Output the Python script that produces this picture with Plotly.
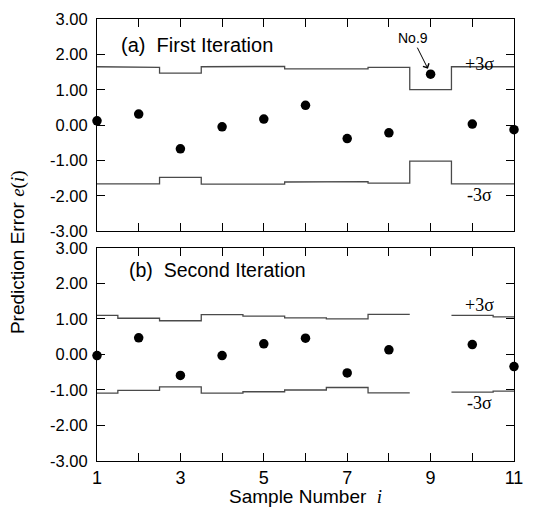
import plotly.graph_objects as go

# ---------------- data ----------------
samples = [1, 2, 3, 4, 5, 6, 7, 8, 9, 10, 11]

err_first = [0.12, 0.31, -0.67, -0.05, 0.17, 0.56, -0.38, -0.22, 1.44, 0.03, -0.13]
ucl_first = [1.65, 1.63, 1.47, 1.65, 1.66, 1.59, 1.59, 1.63, 1.00, 1.65, 1.65]
lcl_first = [-1.66, -1.66, -1.48, -1.67, -1.67, -1.61, -1.60, -1.64, -1.02, -1.66, -1.66]

err_second = [-0.03, 0.47, -0.59, -0.03, 0.30, 0.46, -0.52, 0.13, None, 0.28, -0.34]
ucl_second = [1.10, 1.02, 0.95, 1.12, 1.08, 1.03, 1.00, 1.13, None, 1.10, 1.06]
lcl_second = [-1.09, -1.01, -0.91, -1.09, -1.05, -1.00, -0.93, -1.08, None, -1.06, -1.03]

ytick_vals = [3, 2, 1, 0, -1, -2, -3]
ytick_text = ["3.00", "2.00", "1.00", "0.00", "-1.00", "-2.00", "-3.00"]
xtick_text = ["1", "", "3", "", "5", "", "7", "", "9", "", "11"]


def step_xy(xs, vals):
    """Build step-line coordinates: each sample's limit covers [i-0.5, i+0.5]."""
    X, Y = [], []
    lo_lim, hi_lim = xs[0], xs[-1]
    prev = None
    for x, v in zip(xs, vals):
        if v is None:
            if prev is not None:
                X.append(None); Y.append(None)
            prev = None
            continue
        lo = max(lo_lim, x - 0.5)
        hi = min(hi_lim, x + 0.5)
        X += [lo, hi]
        Y += [v, v]
        prev = v
    return X, Y


fig = go.Figure()
LINE = dict(color="#4a4a4a", width=1.3)

panels = [
    ("x", "y", err_first, ucl_first, lcl_first),
    ("x2", "y2", err_second, ucl_second, lcl_second),
]
for xa, ya, err, ucl, lcl in panels:
    for lim in (ucl, lcl):
        X, Y = step_xy(samples, lim)
        fig.add_trace(go.Scatter(x=X, y=Y, mode="lines", line=LINE,
                                 xaxis=xa, yaxis=ya, showlegend=False,
                                 hoverinfo="skip"))
    fig.add_trace(go.Scatter(x=samples, y=err, mode="markers",
                             marker=dict(color="black", size=9.5),
                             xaxis=xa, yaxis=ya, showlegend=False,
                             cliponaxis=False))

axis_common = dict(showline=True, linecolor="black", linewidth=1, mirror="ticks",
                   ticks="inside", ticklen=8, tickcolor="black", showgrid=False,
                   zeroline=False, automargin=False)
SANS = "Liberation Sans, Arial, sans-serif"
SERIF = "Liberation Serif, Times New Roman, serif"

# the page body has an 8px margin, so the figure is 8px smaller than the window
fig.update_layout(
    width=527, height=506,
    margin=dict(l=89, r=21, t=11, b=53),
    paper_bgcolor="white", plot_bgcolor="white",
    font=dict(family=SANS, color="black"),
    xaxis=dict(axis_common, range=[1, 11], tickvals=samples, showticklabels=False,
               anchor="y", domain=[0, 1]),
    yaxis=dict(axis_common, range=[-3, 3], tickvals=ytick_vals, ticktext=ytick_text,
               tickfont=dict(size=16.5), ticklabelstandoff=5,
               domain=[0.52, 1], anchor="x"),
    xaxis2=dict(axis_common, range=[1, 11], tickvals=samples, ticktext=xtick_text,
                tickfont=dict(size=18), anchor="y2", domain=[0, 1]),
    yaxis2=dict(axis_common, range=[-3, 3], tickvals=ytick_vals, ticktext=ytick_text,
                tickfont=dict(size=16.5), ticklabelstandoff=5,
                domain=[0, 0.482], anchor="x2"),
)

annotations = [
    dict(x=1.53, y=2.26, xref="x", yref="y", text="(a)&nbsp;&nbsp;First Iteration",
         showarrow=False, xanchor="left", font=dict(size=20, family=SANS)),
    dict(x=1.71, y=2.39, xref="x2", yref="y2", text="(b)&nbsp;&nbsp;Second Iteration",
         showarrow=False, xanchor="left", font=dict(size=19.5, family=SANS)),
    dict(x=samples[8], y=err_first[8], xref="x", yref="y", text="No.9",
         showarrow=True, ax=-18, ay=-36, arrowhead=4, arrowsize=1.3, arrowwidth=1,
         arrowcolor="black", standoff=6, font=dict(size=14, family=SANS)),
    dict(x=10.17, y=1.74, xref="x", yref="y", text="+3σ", showarrow=False,
         font=dict(size=18, family=SERIF)),
    dict(x=10.17, y=-1.99, xref="x", yref="y", text="-3σ", showarrow=False,
         font=dict(size=18, family=SERIF)),
    dict(x=10.17, y=1.40, xref="x2", yref="y2", text="+3σ", showarrow=False,
         font=dict(size=18, family=SERIF)),
    dict(x=10.17, y=-1.36, xref="x2", yref="y2", text="-3σ", showarrow=False,
         font=dict(size=18, family=SERIF)),
    dict(x=-0.189, y=0.473, xref="paper", yref="paper", textangle=-90,
         xanchor="center", yanchor="middle",
         text="Prediction Error <span style='font-family:Liberation Serif'><i>e</i>(<i>i</i>)</span>",
         showarrow=False, font=dict(size=19, family=SANS)),
    dict(x=0.5, y=-0.081, xref="paper", yref="paper",
         xanchor="center", yanchor="middle",
         text="Sample Number&nbsp;&nbsp;<span style='font-family:Liberation Serif'><i>i</i></span>",
         showarrow=False, font=dict(size=19, family=SANS)),
]
fig.update_layout(annotations=annotations)

fig.write_html("out.html")
